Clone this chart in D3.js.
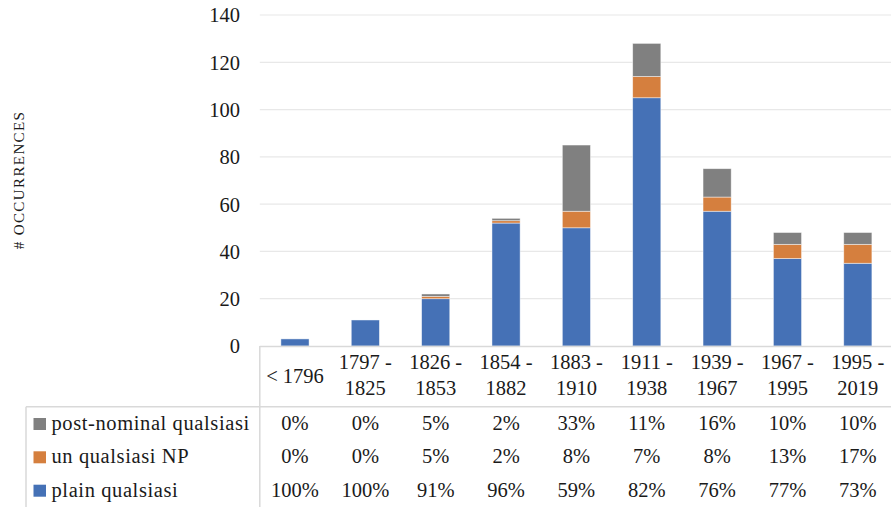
<!DOCTYPE html>
<html>
<head>
<meta charset="utf-8">
<script src="https://cdn.jsdelivr.net/npm/d3@7"></script>
<style>
  html, body { margin: 0; padding: 0; background: #fff; }
  svg { display: block; }
  text { font-family: "Liberation Serif", "DejaVu Serif", serif; fill: #1a1a1a; }
</style>
</head>
<body>
<svg id="chart" width="891" height="507"></svg>
<script>
// Periods on the x axis
const categories = ["< 1796", "1797 - 1825", "1826 - 1853", "1854 - 1882", "1883 - 1910",
                    "1911 - 1938", "1939 - 1967", "1967 - 1995", "1995 - 2019"];

// Occurrence counts per construction
const plainQualsiasi       = [3, 11, 20, 52, 50, 105, 57, 37, 35];
const unQualsiasiNP        = [0, 0, 1, 1, 7, 9, 6, 6, 8];
const postNominalQualsiasi = [0, 0, 1, 1, 28, 14, 12, 5, 5];

// Shares shown in the data table below the chart
const pctPostNominal = ["0%", "0%", "5%", "2%", "33%", "11%", "16%", "10%", "10%"];
const pctUnNP        = ["0%", "0%", "5%", "2%", "8%", "7%", "8%", "13%", "17%"];
const pctPlain       = ["100%", "100%", "91%", "96%", "59%", "82%", "76%", "77%", "73%"];

const yTicks = [0, 20, 40, 60, 80, 100, 120, 140];

const seriesNames = ["plain qualsiasi", "un qualsiasi NP", "post-nominal qualsiasi"];
const seriesColors = ["#4571B6", "#D57F3E", "#808080"];

const svg = d3.select("#chart");
const fontSize = 20.5;

const plotLeft = 259.8, plotRight = 893, plotTop = 15, plotBottom = 346;

const x = d3.scaleBand().domain(categories).range([plotLeft, plotRight])
  .paddingInner(0.6).paddingOuter(0.3);
const y = d3.scaleLinear().domain([0, 140]).range([plotBottom, plotTop]);

// Gridlines
svg.append("g").selectAll("line")
  .data(yTicks.filter(d => d > 0))
  .join("line")
  .attr("x1", plotLeft).attr("x2", 891)
  .attr("y1", d => y(d)).attr("y2", d => y(d))
  .attr("stroke", "#e8e8e8").attr("stroke-width", 1.2);

// Y axis labels
const yAxis = d3.axisLeft(y).tickValues(yTicks).tickSize(0).tickPadding(0);
const yg = svg.append("g").attr("transform", "translate(240,0)").call(yAxis);
yg.select(".domain").remove();
yg.selectAll("text")
  .attr("font-size", fontSize)
  .attr("font-family", null)
  .attr("fill", "#1a1a1a")
  .attr("dy", "0.34em");

// Y axis title
svg.append("text")
  .attr("transform", "translate(23.5,180) rotate(-90)")
  .attr("text-anchor", "middle")
  .attr("font-size", 15)
  .attr("letter-spacing", 1.4)
  .text("# OCCURRENCES");

// Stacked bars
const rows = categories.map((c, i) => ({
  cat: c,
  "plain qualsiasi": plainQualsiasi[i],
  "un qualsiasi NP": unQualsiasiNP[i],
  "post-nominal qualsiasi": postNominalQualsiasi[i]
}));
const stacked = d3.stack().keys(seriesNames)(rows);

svg.append("g").selectAll("g")
  .data(stacked)
  .join("g")
  .attr("fill", (d, i) => seriesColors[i])
  .selectAll("rect")
  .data(d => d.filter(s => s[1] - s[0] > 0))
  .join("rect")
  .attr("x", d => x(d.data.cat))
  .attr("width", x.bandwidth())
  .attr("y", d => y(d[1]))
  .attr("height", d => y(d[0]) - y(d[1]))
  .attr("stroke", "#ffffff")
  .attr("stroke-opacity", 0.6)
  .attr("stroke-width", 0.75);

// Data table frame
const lineColor = "#d9d9d9";
const tableLeft = 26, headerLine = 406.7, tableBottom = 507;
const frame = svg.append("g").attr("stroke", lineColor).attr("stroke-width", 1.5);
frame.append("line").attr("x1", plotLeft).attr("x2", 891).attr("y1", plotBottom + 0.5).attr("y2", plotBottom + 0.5);
frame.append("line").attr("x1", tableLeft).attr("x2", 891).attr("y1", headerLine).attr("y2", headerLine);
frame.append("line").attr("x1", plotLeft).attr("x2", plotLeft).attr("y1", plotBottom).attr("y2", tableBottom);
frame.append("line").attr("x1", tableLeft).attr("x2", tableLeft).attr("y1", headerLine).attr("y2", tableBottom);

// Category header labels
const cx = c => x(c) + x.bandwidth() / 2;
const header = svg.append("g").attr("text-anchor", "middle").attr("font-size", fontSize);
categories.forEach(c => {
  const parts = c.split(" - ");
  if (parts.length === 2) {
    header.append("text").attr("x", cx(c)).attr("y", 368.5).text(parts[0] + " -");
    header.append("text").attr("x", cx(c)).attr("y", 395).text(parts[1]);
  } else {
    header.append("text").attr("x", cx(c)).attr("y", 383).text(c);
  }
});

// Table rows with legend keys
const tableRows = [
  { name: "post-nominal qualsiasi", color: seriesColors[2], values: pctPostNominal, base: 430 },
  { name: "un qualsiasi NP", color: seriesColors[1], values: pctUnNP, base: 463.3 },
  { name: "plain qualsiasi", color: seriesColors[0], values: pctPlain, base: 496.7 }
];
tableRows.forEach(r => {
  svg.append("rect")
    .attr("x", 33.5).attr("y", r.base - 12)
    .attr("width", 12.5).attr("height", 12)
    .attr("fill", r.color);
  svg.append("text")
    .attr("x", 51.5).attr("y", r.base)
    .attr("font-size", fontSize)
    .attr("letter-spacing", 0.6)
    .text(r.name);
  svg.append("g").attr("text-anchor", "middle").attr("font-size", fontSize)
    .selectAll("text").data(r.values).join("text")
    .attr("x", (d, i) => cx(categories[i]))
    .attr("y", r.base)
    .text(d => d);
});
</script>
</body>
</html>
